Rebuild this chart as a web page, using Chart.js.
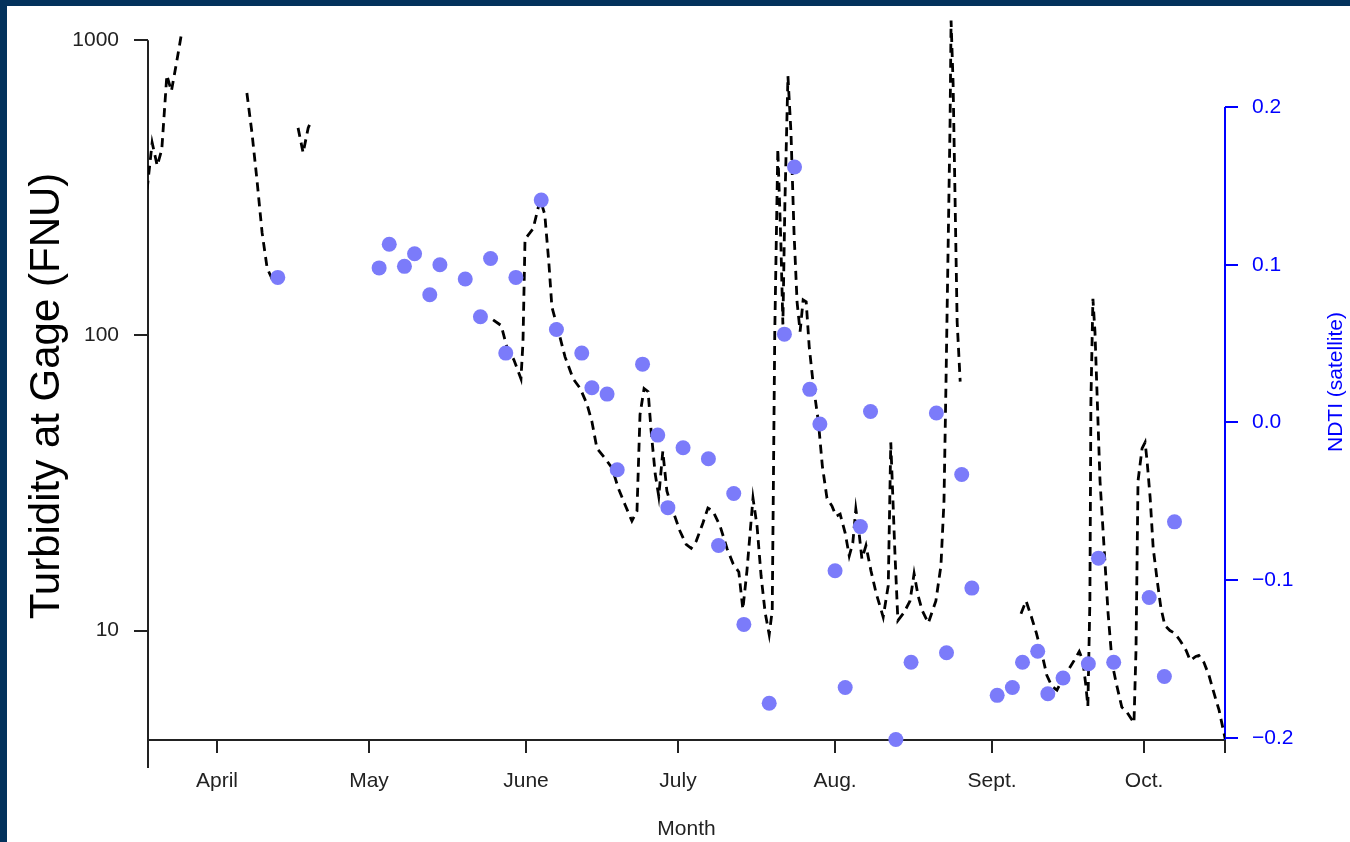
<!DOCTYPE html>
<html>
<head>
<meta charset="utf-8">
<script src="https://cdn.jsdelivr.net/npm/chart.js@4.4.1/dist/chart.umd.min.js"></script>
<style>
    html, body { margin: 0; padding: 0; width: 1350px; height: 842px; overflow: hidden; background: #03325c; }
    #wrap { position: absolute; left: 7px; top: 6px; width: 1343px; height: 836px; background: #fff; }
    canvas { display: block; }
</style>
</head>
<body>
<div id="wrap"><canvas id="turbChart" width="1343" height="836"></canvas></div>
<script>
// Day of year for each turbidity reading (null value = gap in the record)
const turbDay = [
    77.2, 78.2, 79.2, 80.1, 81.1, 82.0, 83.1, 83.9, 85,
    96.9, 97.9, 98.9, 99.9, 100.9, 101.9, 104,
    107.0, 108.0, 109.0, 109.6, 120,
    145.5, 147.1, 148.2, 149.6, 151.0, 151.4, 151.8, 153.4, 154.8, 155.7,
    156.5, 157.1, 158.3, 159.7, 161.3, 162.7, 164.0, 165.0, 166.0, 167.6,
    169.0, 170.2, 171.5, 172.9, 173.9, 174.5, 175.3, 176.1, 176.7, 177.5,
    178.2, 179.0, 179.8, 180.8, 182.4, 183.6, 184.6, 185.6, 186.9, 187.9,
    188.9, 190.3, 191.7, 192.9, 194.0, 194.8, 195.6, 196.8, 197.6, 198.4,
    199.2, 200.0, 200.6, 201.1, 201.7, 202.3, 202.7, 203.1, 203.7, 204.3,
    204.9, 205.5, 206.1, 206.7, 207.3, 207.9, 208.7, 209.7, 210.5, 211.4,
    212.4, 213.2, 214.0, 215.0, 215.8, 216.5, 217.1, 217.7, 218.3, 219.1,
    220.1, 221.1, 222.5, 223.5, 224.0, 224.8, 225.4, 226.6, 227.8, 228.6,
    229.4, 230.2, 231.4, 232.9, 233.9, 234.5, 234.9, 235.3, 235.7, 235.9,
    236.3, 236.7, 237.1, 237.7, 243,
    249.7, 250.7, 251.7, 252.7, 253.9, 254.8, 255.8, 256.8, 257.8, 259.0,
    260.2, 261.2, 261.9, 262.5, 262.9, 263.3, 263.5, 263.9, 264.3, 264.9,
    265.3, 266.3, 266.9, 267.7, 268.5, 269.6, 270.6, 272.0, 272.4, 272.8,
    273.6, 274.2, 274.6, 275.2, 275.8, 276.6, 277.3, 278.1, 279.1, 280.1,
    281.1, 282.3, 283.1, 284.2, 284.8, 285.8, 286.8, 287.8, 288.8, 290.0
];
// Turbidity at the gage (FNU)
const turbFnu = [
    312, 450, 376, 426, 762, 673, 857, 1031, null,
    663, 486, 335, 223, 169, 155, null,
    505, 416, 505, 533, null,
    113, 108, 91.5, 82.7, 71.3, 95.1, 212, 230, 289, 257,
    177, 125, 105, 84.6, 71.3, 66.1, 58.7, 51.1, 41.4, 38.3,
    35.5, 30.4, 26.8, 23.5, 25.4, 53.9, 66.1, 64.5, 47.3, 33.9,
    28.5, 40.5, 29.7, 26.0, 21.7, 19.6, 19.0, 20.1, 23.1, 26.0,
    25.4, 22.6, 18.9, 16.8, 15.8, 11.8, 15.9, 28.1, 22.6, 15.3,
    11.5, 9.69, 11.7, 103, 429, 207, 109, 282, 756, 486,
    223, 130, 103, 132, 130, 91.5, 68.1, 51.1, 36.0, 28.1,
    26.4, 24.4, 24.8, 21.4, 17.9, 19.8, 25.8, 21.7, 17.5, 19.4,
    15.9, 13.4, 11.1, 14.2, 43.4, 18.6, 10.8, 11.5, 12.6, 15.6,
    13.1, 11.7, 10.6, 12.6, 16.6, 27.4, 69.7, 191, 525, 1168,
    716, 282, 111, 69.7, null,
    11.4, 12.6, 11.2, 9.85, 8.24, 7.05, 6.47, 6.28, 6.78, 7.33,
    7.92, 8.49, 7.92, 6.52, 5.54, 12.6, 59.7, 133, 103, 51.1,
    32.1, 16.8, 11.4, 7.74, 6.63, 5.50, 5.29, 4.86, 8.56, 32.1,
    41.4, 43.4, 37.4, 28.1, 19.0, 14.7, 12.0, 10.4, 10.0, 9.77,
    9.25, 8.56, 7.92, 8.17, 8.24, 7.80, 7.05, 6.13, 5.37, 4.3
];

// Satellite NDTI
const ndtiDay = [
    103, 123, 125, 128, 130, 133, 135, 140, 143, 145, 148, 150, 155, 158,
    163, 165, 168, 170, 175, 178, 180, 183, 188, 190, 193, 195, 200, 203,
    205, 208, 210, 213, 215, 218, 220, 225, 228, 233, 235, 238, 240, 245,
    248, 250, 253, 255, 258, 263, 265, 268, 275, 278, 280
];
const ndtiVal = [
    0.092, 0.098, 0.113, 0.099, 0.107, 0.081, 0.100, 0.091, 0.067, 0.104, 0.044, 0.092, 0.141, 0.059,
    0.044, 0.022, 0.018, -0.030, 0.037, -0.008, -0.054, -0.016, -0.023, -0.078, -0.045, -0.128, -0.178, 0.056,
    0.162, 0.021, -0.001, -0.094, -0.168, -0.066, 0.007, -0.201, -0.152, 0.006, -0.146, -0.033, -0.105, -0.173,
    -0.168, -0.152, -0.145, -0.172, -0.162, -0.153, -0.086, -0.152, -0.111, -0.161, -0.063
];

// Axis ticks
const monthDays = [91, 121, 152, 182, 213, 244, 274];
const monthLabels = ['April', 'May', 'June', 'July', 'Aug.', 'Sept.', 'Oct.'];
const turbTicks = [10, 100, 1000];
const ndtiTicks = [-0.2, -0.1, 0.0, 0.1, 0.2];

const X_MIN = 77.38, X_MAX = 289.97;
const FONT = "'Liberation Sans', Arial, sans-serif";

function noPadding(scale) {
    scale.paddingTop = 0;
    scale.paddingBottom = 0;
    scale.paddingLeft = 0;
    scale.paddingRight = 0;
}

// Axis lines and rotated titles, drawn like the original R plot
const axisDecor = {
    id: 'axisDecor',
    beforeDatasetsDraw(chart) {
        const { ctx, chartArea: a, scales } = chart;
        ctx.save();
        ctx.lineWidth = 2;
        ctx.strokeStyle = '#222';
        ctx.beginPath();
        ctx.moveTo(a.left, scales.yL.getPixelForValue(1000));
        ctx.lineTo(a.left, a.bottom + 28);
        ctx.moveTo(a.left, a.bottom);
        ctx.lineTo(a.right, a.bottom);
        ctx.stroke();
        ctx.strokeStyle = '#0000ff';
        ctx.beginPath();
        ctx.moveTo(a.right, scales.yR.getPixelForValue(0.2));
        ctx.lineTo(a.right, a.bottom);
        ctx.stroke();
        ctx.restore();
    },
    afterDraw(chart) {
        const ctx = chart.ctx;
        ctx.save();
        ctx.textAlign = 'center';
        ctx.textBaseline = 'middle';
        ctx.translate(40, 390);
        ctx.rotate(-Math.PI / 2);
        ctx.font = '42px ' + FONT;
        ctx.fillStyle = '#000';
        ctx.fillText('Turbidity at Gage (FNU)', 0, 0);
        ctx.restore();

        ctx.save();
        ctx.textAlign = 'center';
        ctx.textBaseline = 'middle';
        ctx.translate(chart.chartArea.right + 111, 376);
        ctx.rotate(-Math.PI / 2);
        ctx.font = '21px ' + FONT;
        ctx.fillStyle = '#0000ff';
        ctx.fillText('NDTI (satellite)', 0, 0);
        ctx.restore();
    }
};

const ctx = document.getElementById('turbChart');
new Chart(ctx.getContext('2d'), {
    type: 'line',
    data: {
        datasets: [
            {
                label: 'NDTI',
                data: ndtiDay.map((d, i) => ({ x: d, y: ndtiVal[i] })),
                yAxisID: 'yR',
                showLine: false,
                pointRadius: 7.5,
                pointBackgroundColor: '#7b7bfa',
                pointBorderWidth: 0,
                clip: false
            },
            {
                label: 'Turbidity',
                data: turbDay.map((d, i) => ({ x: d, y: turbFnu[i] })),
                yAxisID: 'yL',
                borderColor: '#000',
                borderWidth: 2.8,
                borderDash: [9, 6],
                pointRadius: 0,
                tension: 0,
                spanGaps: false,
                fill: false
            }
        ]
    },
    options: {
        responsive: false,
        animation: false,
        layout: { padding: { top: 4, left: 0, right: 0, bottom: 0 } },
        plugins: {
            legend: { display: false },
            tooltip: { enabled: false }
        },
        scales: {
            x: {
                type: 'linear',
                min: X_MIN,
                max: X_MAX,
                afterBuildTicks: s => { s.ticks = [X_MIN, ...monthDays, X_MAX].map(v => ({ value: v })); },
                afterFit: s => { s.height = 102; noPadding(s); },
                ticks: {
                    autoSkip: false,
                    maxRotation: 0,
                    padding: 16,
                    color: '#222',
                    font: { family: FONT, size: 21 },
                    callback: v => {
                        const i = monthDays.indexOf(v);
                        return i >= 0 ? monthLabels[i] : '';
                    }
                },
                grid: { drawOnChartArea: false, tickLength: 13, color: '#222', lineWidth: 2 },
                border: { display: false },
                title: {
                    display: true,
                    text: 'Month',
                    color: '#222',
                    font: { family: FONT, size: 21 },
                    padding: { top: 0, bottom: 0 }
                }
            },
            yL: {
                type: 'logarithmic',
                position: 'left',
                min: 4.256,
                max: 1233,
                afterBuildTicks: s => { s.ticks = turbTicks.map(v => ({ value: v })); },
                afterFit: s => { s.width = 141; noPadding(s); },
                ticks: {
                    padding: 15,
                    color: '#222',
                    font: { family: FONT, size: 21 },
                    callback: v => String(v)
                },
                grid: { drawOnChartArea: false, tickLength: 14, color: '#222', lineWidth: 2 },
                border: { display: false }
            },
            yR: {
                type: 'linear',
                position: 'right',
                min: -0.2013,
                max: 0.2593,
                afterBuildTicks: s => { s.ticks = ndtiTicks.map(v => ({ value: v })); },
                afterFit: s => { s.width = 125; noPadding(s); },
                ticks: {
                    padding: 14,
                    color: '#0000ff',
                    font: { family: FONT, size: 21 },
                    callback: v => v.toFixed(1).replace('-', '\u2212')
                },
                grid: { drawOnChartArea: false, tickLength: 13, color: '#0000ff', lineWidth: 2 },
                border: { display: false }
            }
        }
    },
    plugins: [axisDecor]
});
</script>
</body>
</html>
